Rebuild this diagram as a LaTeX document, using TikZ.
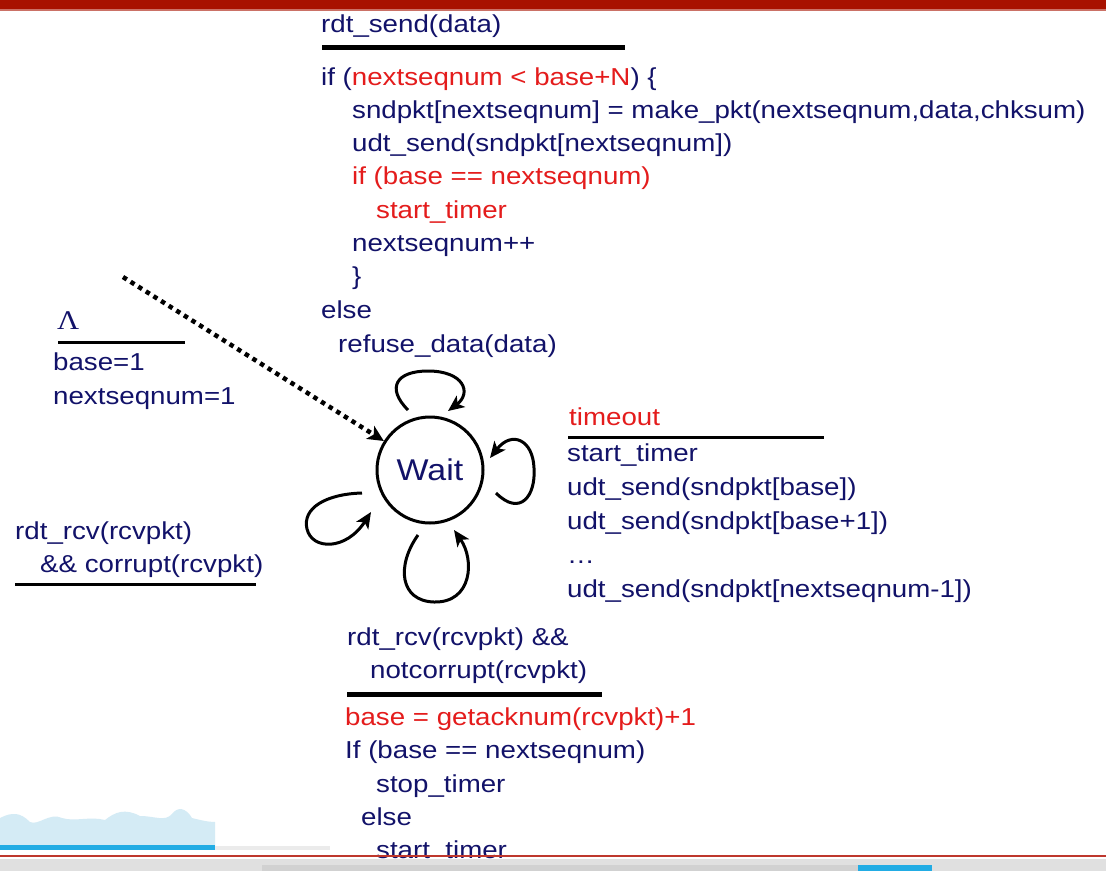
\documentclass[tikz,border=0pt]{standalone}
\usepackage{fontspec}
\setmainfont{Liberation Sans}[FakeStretch=1.13]
\newfontfamily\lamfont{Liberation Serif}[FakeStretch=1.13]
\usetikzlibrary{arrows.meta,calc}
\definecolor{navy}{RGB}{18,18,105}
\definecolor{codered}{RGB}{228,28,28}
\definecolor{barred}{RGB}{168,18,0}
\definecolor{linered}{RGB}{190,55,45}
\definecolor{wave}{RGB}{212,235,245}
\definecolor{waveblue}{RGB}{34,172,228}
\begin{document}
\begin{tikzpicture}[x=1pt,y=-1pt,
  txt/.style={anchor=base west,inner sep=0pt,text=navy,font=\fontsize{24.5}{30}\selectfont},
  redtxt/.style={txt,text=codered},
  rulethin/.style={line width=3pt,black},
  rulethick/.style={line width=5pt,black},
  loopline/.style={line width=3pt,black,-{Stealth[length=16pt,width=14pt,inset=4pt]}},
  statecirc/.style={circle,draw=black,line width=3pt,minimum size=106pt,inner sep=0pt,text=navy,font=\fontsize{30}{30}\selectfont}
]
\useasboundingbox (0,0) rectangle (1106,871);
\fill[white] (0,0) rectangle (1106,871);

% top red bar
\fill[barred] (0,0) rectangle (1106,9);
\fill[barred!60!white] (0,9) rectangle (1106,11);

% ---- rdt_send block ----
\node[txt] (send) at (321,32) {rdt\_send(data)};
\draw[rulethick] (322,47) -- (625,47);
\node[txt] (c1) at (321,85) {if (\textcolor{codered}{nextseqnum < base+N}) \{};
\node[txt] (c2) at (352,118) {sndpkt[nextseqnum] = make\_pkt(nextseqnum,data,chksum)};
\node[txt] (c3) at (352,151) {udt\_send(sndpkt[nextseqnum])};
\node[redtxt] (c4) at (352,184) {if (base == nextseqnum)};
\node[redtxt] (c5) at (376,218) {start\_timer};
\node[txt] (c6) at (352,251) {nextseqnum++};
\node[txt] (c7) at (352,284) {\}};
\node[txt] (c8) at (321,318) {else};
\node[txt] (c9) at (338,352) {refuse\_data(data)};

% ---- initial block ----
\node[anchor=base west,inner sep=0pt,text=navy,font=\lamfont\fontsize{27}{28}\selectfont] (lam) at (57,329) {Λ};
\draw[rulethin] (58,342) -- (185,342);
\node[txt] (i1) at (53,370) {base=1};
\node[txt] (i2) at (53,404) {nextseqnum=1};

% ---- state ----
\node[statecirc] (wait) at (430,470) {Wait};

% initial dotted arrow
\coordinate (init) at (123,277);
\draw[line width=4.5pt,dash pattern=on 4.5pt off 4.5pt,-{Stealth[length=16pt,width=15pt,inset=4pt]}] (init) -- (wait);

% ---- loops ----
\coordinate (ta) at (408,410);
\coordinate (tb) at (448,411);
\draw[loopline] (ta) .. controls (386,388) and (396,371) .. (428,371) .. controls (464,371) and (472,393) .. (tb);

\coordinate (ra) at (496,493);
\coordinate (rb) at (490,458);
\draw[loopline] (ra) .. controls (520,517) and (536,496) .. (534,468) .. controls (533,440) and (512,430) .. (rb);

\coordinate (la) at (362,493);
\coordinate (lb) at (371,512);
\draw[loopline] (la) .. controls (326,494) and (302,508) .. (307,529) .. controls (312,550) and (346,551) .. (lb);

\coordinate (ba) at (418,535);
\coordinate (bb) at (454,530);
\draw[loopline] (ba) .. controls (396,566) and (400,601) .. (434,602) .. controls (472,603) and (475,560) .. (bb);

% ---- timeout block ----
\node[redtxt] (to) at (569,425) {timeout};
\draw[rulethin] (568,437) -- (824,437);
\node[txt] (t1) at (567,461) {start\_timer};
\node[txt] (t2) at (567,495) {udt\_send(sndpkt[base])};
\node[txt] (t3) at (567,529) {udt\_send(sndpkt[base+1])};
\node[txt] (t4) at (567,563) {\ldots};
\node[txt] (t5) at (567,597) {udt\_send(sndpkt[nextseqnum-1])};

% ---- corrupt block ----
\node[txt] (k1) at (15,539) {rdt\_rcv(rcvpkt)};
\node[txt] (k2) at (40,572) {\&\& corrupt(rcvpkt)};
\draw[rulethin] (15,584) -- (256,584);

% ---- notcorrupt block ----
\node[txt] (n1) at (347,645) {rdt\_rcv(rcvpkt) \&\&};
\node[txt] (n2) at (370,678) {notcorrupt(rcvpkt)};
\draw[rulethick] (347,694) -- (602,694);
\node[redtxt] (n3) at (345,725) {base = getacknum(rcvpkt)+1};
\node[txt] (n4) at (345,758) {If (base == nextseqnum)};
\node[txt] (n5) at (376,792) {stop\_timer};
\node[txt] (n6) at (361,825) {else};
\node[txt] (n7) at (376,858) {start\_timer};

% ---- bottom player decorations ----
\fill[wave] (0,846) -- (0,818) .. controls (12,812) and (20,812) .. (30,822) .. controls (38,826) and (50,812) .. (62,818) .. controls (75,822) and (90,816) .. (105,820) .. controls (115,812) and (125,808) .. (140,816) .. controls (155,816) and (165,822) .. (172,814) .. controls (178,806) and (186,808) .. (192,818) .. controls (200,820) and (208,822) .. (215,822) -- (215,846) -- cycle;
\fill[waveblue] (0,845) rectangle (215,850);
\fill[black!8] (215,846) rectangle (330,850);
\draw[linered,line width=2pt] (0,856) -- (1106,856);
\fill[black!12] (0,859) rectangle (1106,871);
\fill[black!18] (262,865) rectangle (860,871);
\fill[waveblue] (858,865) rectangle (932,871);
\end{tikzpicture}
\end{document}
